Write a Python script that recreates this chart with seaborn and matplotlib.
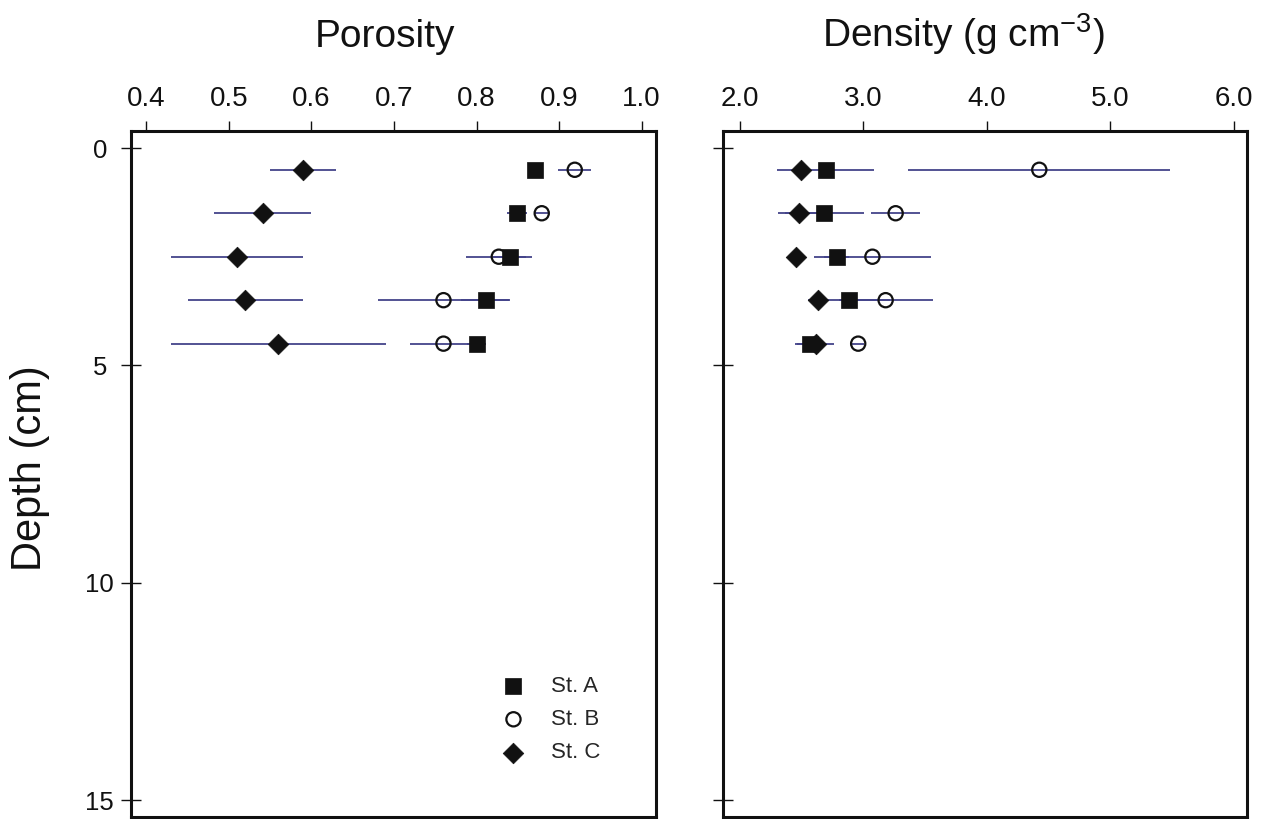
import matplotlib
matplotlib.use("Agg")
import matplotlib.pyplot as plt
import seaborn as sns

# depth of each sample slice (cm)
depth = [0.5, 1.5, 2.5, 3.5, 4.5]

# porosity per station, with +/- error
por_a = [0.871, 0.849, 0.840, 0.811, 0.800]
por_a_err = [0.005, 0.012, 0.020, 0.030, 0.012]
por_b = [0.919, 0.879, 0.827, 0.760, 0.760]
por_b_err = [0.020, 0.008, 0.040, 0.079, 0.040]
por_c = [0.590, 0.541, 0.510, 0.520, 0.560]
por_c_err = [0.040, 0.059, 0.080, 0.070, 0.130]

# density per station (g cm-3), with +/- error
den_a = [2.697, 2.685, 2.786, 2.888, 2.570]
den_a_err = [0.39, 0.32, 0.10, 0.33, 0.12]
den_b = [4.425, 3.263, 3.075, 3.182, 2.960]
den_b_err = [1.06, 0.20, 0.47, 0.38, 0.05]
den_c = [2.494, 2.480, 2.454, 2.633, 2.618]
den_c_err = [0.05, 0.17, 0.03, 0.05, 0.15]

stations = ["St. A", "St. B", "St. C"]
por_ticks = [0.4, 0.5, 0.6, 0.7, 0.8, 0.9, 1.0]
den_ticks = [2.0, 3.0, 4.0, 5.0, 6.0]
depth_ticks = [0, 5, 10, 15]

sns.set_style("white")
plt.rcParams["font.family"] = ["Liberation Sans", "DejaVu Sans"]
plt.rcParams["mathtext.default"] = "regular"

ink = "#111111"
bar_col = "#44448a"

fig = plt.figure(figsize=(12.67, 8.19), dpi=100)
ax1 = fig.add_axes([0.1037, 0.0024, 0.4138, 0.8376])
ax2 = fig.add_axes([0.5706, 0.0024, 0.4136, 0.8376])


def draw_panel(ax, vals, errs):
    # error bars first so markers sit on top
    for v, e in zip(vals, errs):
        ax.errorbar(v, depth, xerr=e, fmt="none", ecolor=bar_col,
                    elinewidth=1.3, capsize=0, zorder=1)
    sns.scatterplot(x=vals[0], y=depth, ax=ax, marker="s", s=125,
                    color=ink, edgecolor=ink, linewidth=0.5,
                    label=stations[0], zorder=3)
    sns.scatterplot(x=vals[1], y=depth, ax=ax, marker="o", s=105,
                    facecolors="none", edgecolor=ink, linewidth=1.6,
                    label=stations[1], zorder=3)
    sns.scatterplot(x=vals[2], y=depth, ax=ax, marker="D", s=110,
                    color=ink, edgecolor=ink, linewidth=0.5,
                    label=stations[2], zorder=4)
    ax.set_ylim(15.39, -0.391)
    ax.set_yticks(depth_ticks)
    ax.xaxis.tick_top()
    ax.tick_params(axis="x", top=True, bottom=False, direction="out",
                   length=7, width=1, pad=6.5, labelsize=20, colors=ink)
    ax.tick_params(axis="y", left=True, right=False, direction="inout",
                   length=14, width=1, pad=15.7, labelsize=18.5, colors=ink)
    ax.set_xlabel("")
    ax.set_ylabel("")
    for sp in ax.spines.values():
        sp.set_linewidth(2.2)
        sp.set_color(ink)


draw_panel(ax1, [por_a, por_b, por_c], [por_a_err, por_b_err, por_c_err])
ax1.set_xlim(0.382, 1.017)
ax1.set_xticks(por_ticks)
ax1.set_xticklabels([f"{t:.1f}" for t in por_ticks])
ax1.set_yticklabels([str(t) for t in depth_ticks])
for t in ax1.get_yticklabels():
    t.set_ha("center")
ax1.legend(loc="center left", bbox_to_anchor=(0.6864, 0.142), frameon=False,
           fontsize=16, borderpad=0, borderaxespad=0, labelspacing=0.55,
           handletextpad=0.7, handlelength=2.0, scatterpoints=1)
ax1.text(0.483, 1.122, "Porosity", transform=ax1.transAxes,
         ha="center", va="baseline", fontsize=28, color=ink)
ax1.text(-0.194, 0.509, "Depth (cm)", transform=ax1.transAxes, rotation=90,
         ha="center", va="center", fontsize=30, color=ink)

draw_panel(ax2, [den_a, den_b, den_c], [den_a_err, den_b_err, den_c_err])
ax2.set_xlim(1.866, 6.105)
ax2.set_xticks(den_ticks)
ax2.set_xticklabels([f"{t:.1f}" for t in den_ticks])
ax2.set_yticklabels([])
ax2.get_legend().remove()
ax2.text(0.458, 1.122, "Density (g cm$^{-3}$)", transform=ax2.transAxes,
         ha="center", va="baseline", fontsize=28, color=ink)

fig.savefig("out.png", dpi=100)
